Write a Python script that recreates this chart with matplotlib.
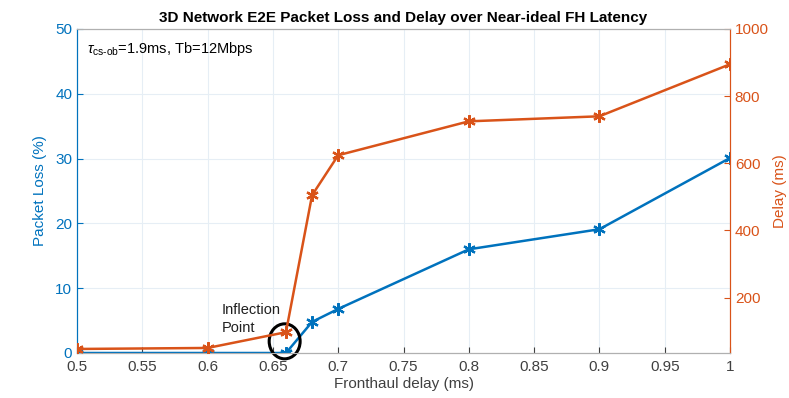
import numpy as np
import matplotlib.pyplot as plt
from matplotlib.patches import Ellipse

plt.rcParams['font.family'] = ['Liberation Sans', 'DejaVu Sans']
plt.rcParams['mathtext.fontset'] = 'custom'
plt.rcParams['mathtext.rm'] = 'Liberation Sans'
plt.rcParams['mathtext.it'] = 'Liberation Sans:italic'

# fronthaul delay sweep
fh_delay = [0.5, 0.6, 0.66, 0.68, 0.7, 0.8, 0.9, 1.0]
packet_loss = [0, 0, 0, 4.8, 6.8, 16, 19.1, 30.1]
e2e_delay = [47, 50, 97, 505, 624, 725, 740, 895]

xticks = np.arange(0.5, 1.001, 0.05)
xtick_labels = ['0.5', '0.55', '0.6', '0.65', '0.7', '0.75', '0.8', '0.85', '0.9', '0.95', '1']

blue = '#0072BD'
orange = '#D95319'
star = (6, 2, 0)

fig = plt.figure(figsize=(7.89, 3.98), dpi=100)
ax = fig.add_axes([77 / 789, 1 - 353 / 398, (730 - 77) / 789, (353 - 29) / 398])
ax2 = ax.twinx()

ax.plot(fh_delay, packet_loss, color=blue, marker=star, markersize=9,
        markeredgewidth=1.6, linewidth=1.8, zorder=3)
ax2.plot(fh_delay, e2e_delay, color=orange, marker=star, markersize=9,
         markeredgewidth=1.6, linewidth=1.8, zorder=3)

ax.set_xlim(0.5, 1.0)
ax.set_ylim(0, 50)
ax2.set_ylim(35, 1000)
ax.set_xticks(xticks)
ax.set_xticklabels(xtick_labels)
ax.set_yticks([0, 10, 20, 30, 40, 50])
ax2.set_yticks([200, 400, 600, 800, 1000])

ax.grid(True, color='#e6eef5', linewidth=0.8)
ax.set_axisbelow(True)

for a in (ax, ax2):
    a.tick_params(direction='in', length=4, labelsize=11)
    a.spines['top'].set_color('#b0b0b0')
    a.spines['bottom'].set_color('#b0b0b0')
    a.spines['left'].set_color(blue)
    a.spines['right'].set_color(orange)
ax.tick_params(axis='x', colors='#404040', pad=5)
ax.tick_params(axis='y', colors=blue, labelcolor=blue)
ax2.tick_params(axis='y', colors=orange, labelcolor=orange)

ax.set_xlabel('Fronthaul delay (ms)', fontsize=11, color='#404040', labelpad=2)
ax.set_ylabel('Packet Loss (%)', fontsize=11, color=blue, labelpad=6)
ax2.set_ylabel('Delay (ms)', fontsize=11, color=orange, labelpad=3)
ax.set_title('3D Network E2E Packet Loss and Delay over Near-ideal FH Latency',
             fontsize=11, fontweight='bold', pad=5)

ax.text(0.508, 46.3, r'$\tau_{\mathrm{cs\text{-}ob}}$=1.9ms, Tb=12Mbps', fontsize=10.5)

# circle the knee of the curves
ax.add_patch(Ellipse((0.659, 1.8), 0.0237, 5.4, fill=False, edgecolor='black',
                     linewidth=2.2, zorder=4, clip_on=False))
ax.text(0.611, 2.8, 'Inflection\nPoint', fontsize=10.5, color='#202020',
        ha='left', va='bottom', linespacing=1.35)

fig.savefig('out.png', dpi=100)
